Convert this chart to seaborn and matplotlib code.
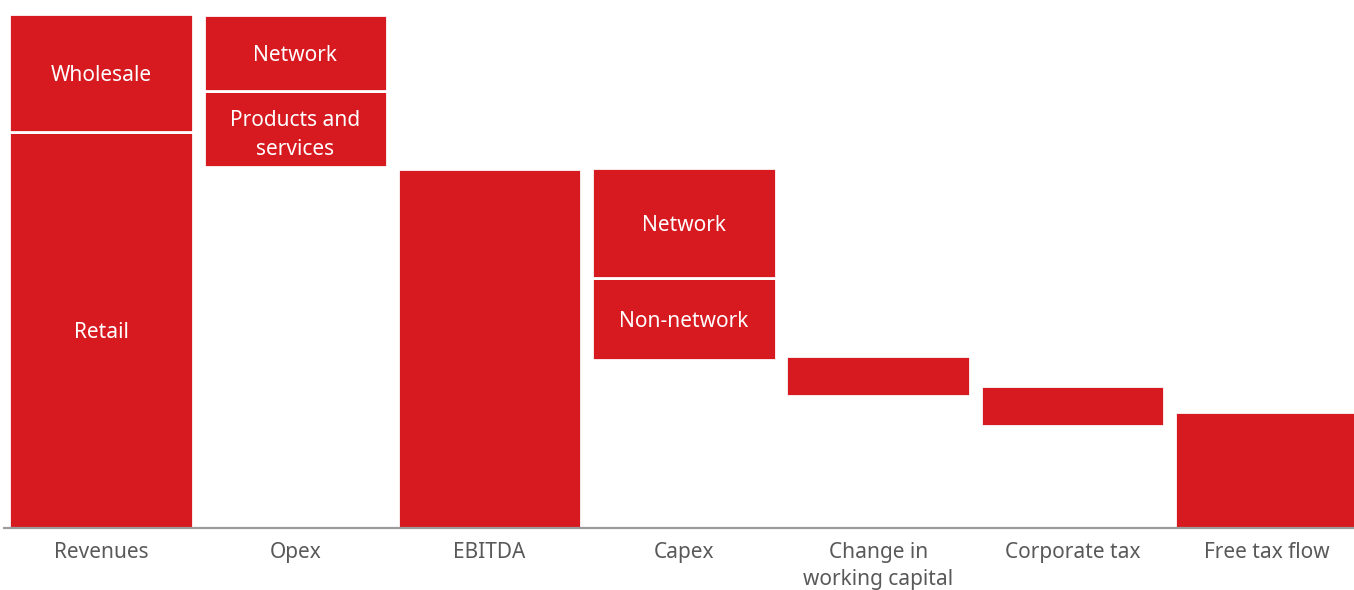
import numpy as np
import pandas as pd
import matplotlib
matplotlib.use("Agg")
import matplotlib.pyplot as plt
import seaborn as sns

# Categories along the x axis
categories = ["Revenues", "Opex", "EBITDA", "Capex",
              "Change in\nworking capital", "Corporate tax", "Free tax flow"]

# Stacked segments of the waterfall (bottom / top of each block, arbitrary units)
seg_category = ["Revenues", "Revenues", "Opex", "Opex", "EBITDA", "Capex", "Capex",
                "Change in\nworking capital", "Corporate tax", "Free tax flow"]
seg_label = ["Retail", "Wholesale", "Products and\nservices", "Network", "",
             "Non-network", "Network", "", "", ""]
seg_bottom = [0, 396, 361, 437, 0, 168, 250, 132, 102, 0]
seg_top = [396, 514, 437, 513, 359, 250, 360, 172, 142, 116]

RED = "#D71920"
FONT = ["Noto Sans", "DejaVu Sans"]

df = pd.DataFrame({"category": seg_category, "label": seg_label,
                   "bottom": seg_bottom, "top": seg_top})
df["height"] = df["top"] - df["bottom"]
df["layer"] = df.groupby("category").cumcount()
df["pos"] = df["category"].map({c: i for i, c in enumerate(categories)})

sns.set_theme(style="white")
plt.rcParams["font.family"] = FONT

fig = plt.figure(figsize=(13.54, 5.90), dpi=100)
ax = fig.add_axes([4 / 1354, 62 / 590, 1350 / 1354, 520 / 590])

for layer, sub in df.groupby("layer"):
    sub = sub.sort_values("pos")
    sns.barplot(data=sub, x="category", y="height", order=categories,
                bottom=sub["bottom"].values, color=RED, saturation=1,
                width=0.945, edgecolor="white", linewidth=2, errorbar=None, ax=ax)

# labels inside the blocks
for _, r in df[df["label"] != ""].iterrows():
    ax.text(r["pos"], (r["bottom"] + r["top"]) / 2, r["label"], ha="center",
            va="center_baseline", color="white", fontsize=15, linespacing=1.45)

ax.set_xlim(-0.5, 6.449)
ax.set_ylim(0, 520)
ax.set_xlabel("")
ax.set_ylabel("")
ax.set_yticks([])
for s in ["left", "right", "top"]:
    ax.spines[s].set_visible(False)
ax.spines["bottom"].set_color("#9b9b9b")
ax.spines["bottom"].set_linewidth(1.6)
ax.tick_params(axis="x", length=0, pad=10, labelsize=15, labelcolor="#595959")
for t in ax.get_xticklabels():
    t.set_linespacing(1.4)

fig.savefig("out.png", dpi=100)
